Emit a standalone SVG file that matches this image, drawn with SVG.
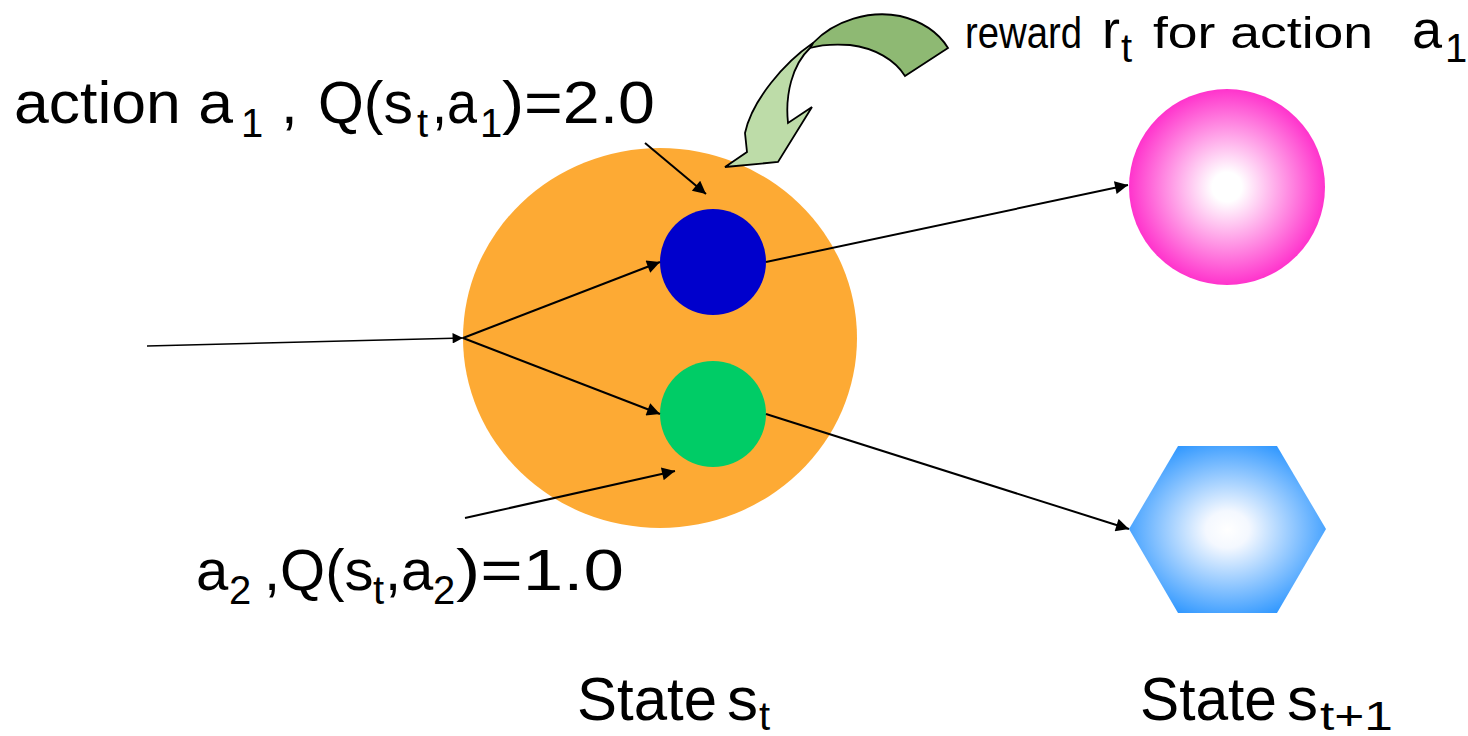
<svg xmlns="http://www.w3.org/2000/svg" width="1468" height="736" viewBox="0 0 1468 736">
<style>
text{font-family:"Liberation Sans",Arial,sans-serif;fill:#000}
.lbl{font-size:60px}
.sub{font-size:40px}
.conn{stroke:#000;stroke-width:2;fill:none;marker-end:url(#ah)}
.garrow{stroke:#000;stroke-width:1.8;stroke-linejoin:miter}
</style>
<defs>
<marker id="ah" viewBox="0 0 10 10" refX="10" refY="5" markerWidth="8" markerHeight="6.5" markerUnits="strokeWidth" orient="auto">
<path d="M0,0 L10,5 L0,10 Z" fill="#000"/>
</marker>
<radialGradient id="pinkG" cx="0.5" cy="0.5" r="0.5">
<stop offset="0" stop-color="#ffffff"/>
<stop offset="0.15" stop-color="#ffffff"/>
<stop offset="1" stop-color="#ff33cc"/>
</radialGradient>
<radialGradient id="blueG" cx="0.5" cy="0.5" r="0.55">
<stop offset="0" stop-color="#ffffff"/>
<stop offset="0.2" stop-color="#f4f8ff"/>
<stop offset="1" stop-color="#3399ff"/>
</radialGradient>
</defs>

<g id="state-st">
<ellipse cx="660" cy="338" rx="197" ry="190" fill="#fdaa34"/>
</g>
<g id="action-a1">
<circle cx="713" cy="262" r="53" fill="#0000cc"/>
</g>
<g id="action-a2">
<circle cx="713" cy="414" r="53" fill="#00cc66"/>
</g>
<g id="next-state-pink">
<circle cx="1227" cy="187" r="98" fill="url(#pinkG)"/>
</g>
<g id="next-state-hex">
<polygon points="1129,529 1178,446 1277,446 1326,529 1277,613 1178,613" fill="url(#blueG)"/>
</g>

<g id="reward-arrow">
<path class="garrow" fill="#8eb973" d="M813,43 C835,20 870,10 900,16 C925,22 940,35 948,48 L905,76 C895,60 875,48 850,45 C835,44 820,45 810,48 Z"/>
<path class="garrow" fill="#bddca8" d="M813,43 C785,62 752,100 745,133 L747,152 L725,167 L778,162 L812,107 L788,123 C785,95 792,65 810,48 Z"/>
</g>

<g id="connectors">
<line class="conn" x1="147" y1="346" x2="463" y2="338" style="stroke-width:1.6"/>
<line class="conn" x1="463" y1="338" x2="660" y2="262"/>
<line class="conn" x1="463" y1="338" x2="660" y2="414"/>
<line class="conn" x1="645" y1="143" x2="706" y2="194"/>
<line class="conn" x1="465" y1="518" x2="675" y2="471"/>
<line class="conn" x1="766" y1="262" x2="1128" y2="185"/>
<line class="conn" x1="766" y1="414" x2="1129" y2="529"/>
</g>

<g id="label-a1">
<text class="lbl" y="123"><tspan x="14" textLength="219" lengthAdjust="spacingAndGlyphs">action a</tspan><tspan class="sub" x="241" y="137">1</tspan><tspan x="281" y="123">,</tspan><tspan x="318" textLength="95" lengthAdjust="spacingAndGlyphs">Q(s</tspan><tspan class="sub" x="417" y="137">t</tspan><tspan x="432" y="123" textLength="45" lengthAdjust="spacingAndGlyphs">,a</tspan><tspan class="sub" x="480" y="137">1</tspan><tspan x="502" y="123" textLength="153" lengthAdjust="spacingAndGlyphs">)=2.0</tspan></text>
</g>

<g id="label-a2">
<text style="font-size:58px" y="590"><tspan x="196">a</tspan><tspan class="sub" x="229" y="604">2</tspan><tspan x="264" y="590">,Q(s</tspan><tspan class="sub" x="373" y="604">t</tspan><tspan x="385" y="590">,a</tspan><tspan class="sub" x="433" y="604">2</tspan><tspan x="456" y="590" textLength="168" lengthAdjust="spacingAndGlyphs">)=1.0</tspan></text>
</g>

<g id="label-reward">
<text y="48"><tspan x="965" style="font-size:44px" textLength="117" lengthAdjust="spacingAndGlyphs">reward</tspan><tspan x="1102" style="font-size:54px">r</tspan><tspan x="1121" y="62" class="sub">t</tspan><tspan x="1153" y="48" style="font-size:44px" textLength="220" lengthAdjust="spacingAndGlyphs">for action</tspan><tspan x="1412" style="font-size:54px">a</tspan><tspan x="1445" y="62" class="sub">1</tspan></text>
</g>

<g id="label-state-st">
<text y="720"><tspan x="577" style="font-size:62px" textLength="140" lengthAdjust="spacingAndGlyphs">State</tspan><tspan x="727" style="font-size:62px">s</tspan><tspan x="759" y="730" class="sub">t</tspan></text>
</g>
<g id="label-state-st1">
<text y="720"><tspan x="1140" style="font-size:62px" textLength="137" lengthAdjust="spacingAndGlyphs">State</tspan><tspan x="1287" style="font-size:62px">s</tspan><tspan x="1320" y="730" class="sub" textLength="73" lengthAdjust="spacingAndGlyphs">t+1</tspan></text>
</g>
</svg>
